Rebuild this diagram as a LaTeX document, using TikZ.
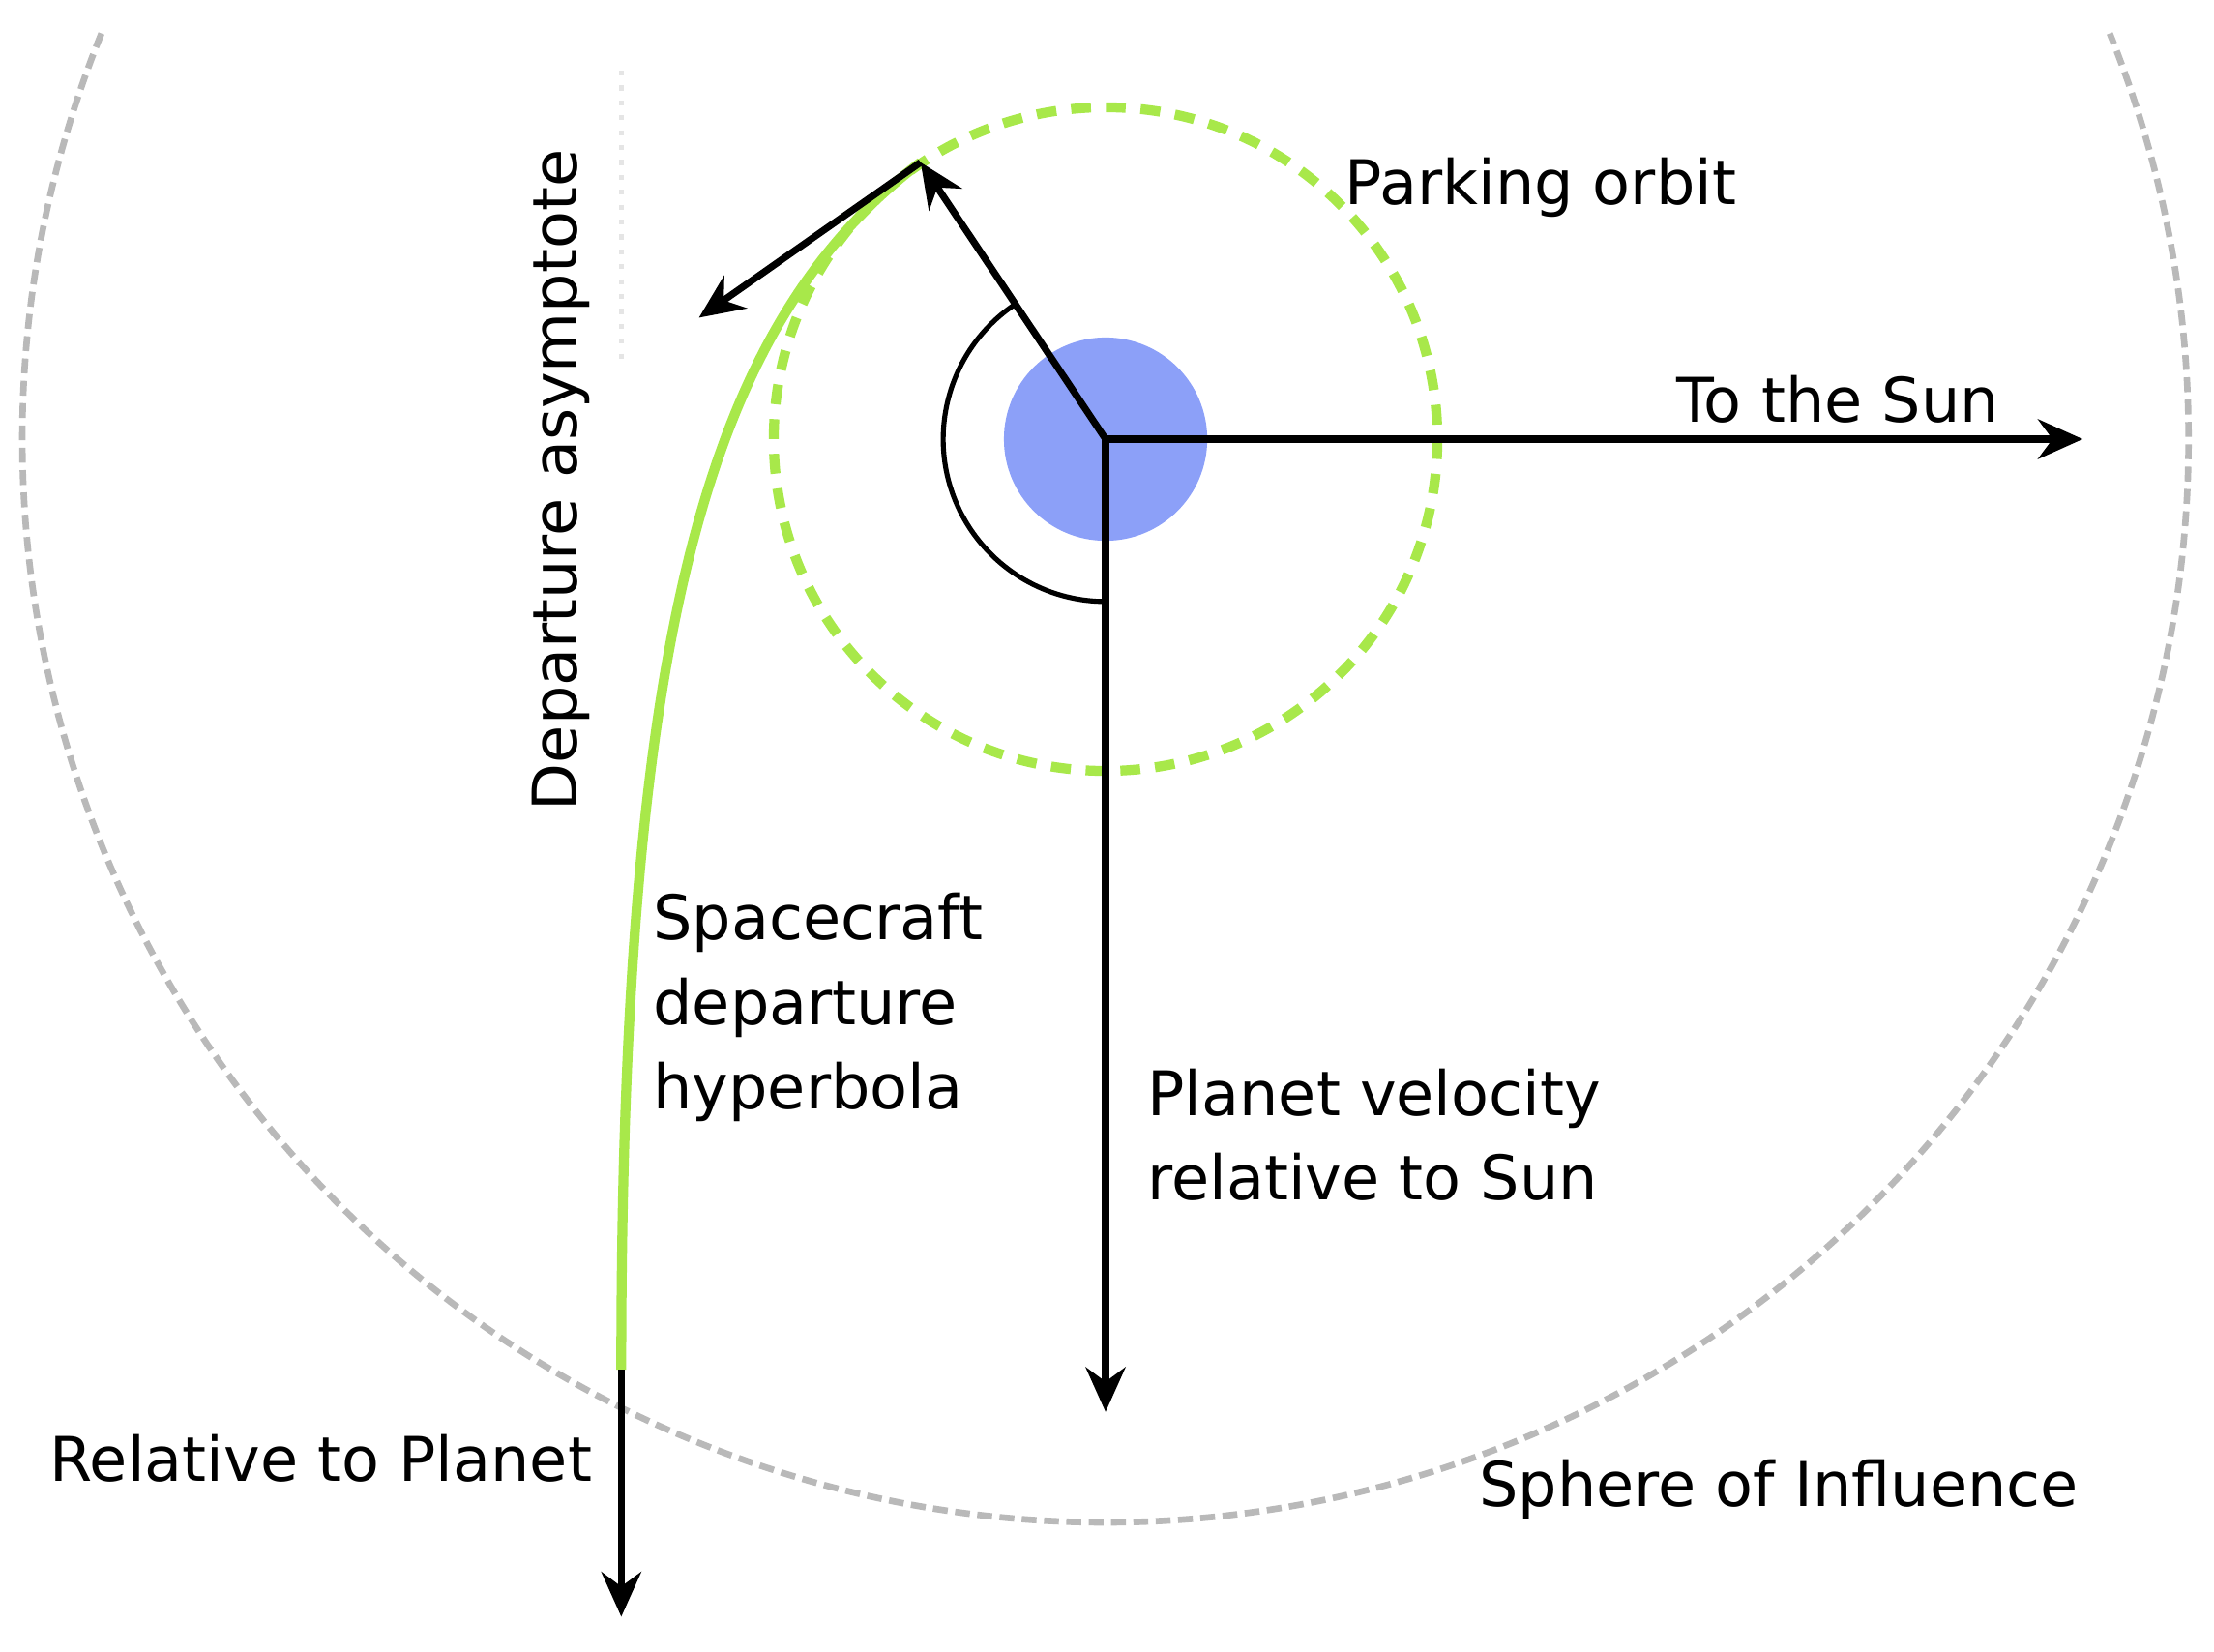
\documentclass[tikz,border=0pt]{standalone}
\usepackage{fontspec}
\setmainfont{DejaVu Sans}
\usetikzlibrary{arrows.meta}
\definecolor{pl}{HTML}{8CA0F8}
\definecolor{gr}{HTML}{A8E84A}
\tikzset{arr/.style={draw=black,line width=1.4pt,-{Stealth[length=9pt,width=8pt]}},
  lbl/.style={font=\fontsize{12.4}{17}\selectfont,inner sep=0pt,align=left}}
\begin{document}
\begin{tikzpicture}[x=0.01cm,y=-0.01cm]
\useasboundingbox (0,0) rectangle (1568,1170);
\coordinate (c) at (783,311);
\draw[gray!55,line width=1.3pt,dash pattern=on 3pt off 1.5pt] (c) ++(-158:767) arc[start angle=-158,end angle=-382,radius=767];
\draw[gr,line width=2pt,dash pattern=on 4pt off 3pt] (c) circle[radius=235];
\fill[pl] (c) circle[radius=72];
\draw[gray!20,line width=1pt,dotted] (440,50) -- (440,260);
\coordinate (p) at (652,115);
\coordinate (h) at (440,970);
\draw[gr,line width=2pt] (p) .. controls (500,230) and (440,450) .. (h);
\draw[line width=1pt] (c) ++(-123.7:115) arc[start angle=-123.7,end angle=-270,radius=115];
\draw[arr] (c) -- (1475,311) coordinate (sun);
\draw[arr] (c) -- (783,1000) coordinate (vel);
\draw[arr] (c) -- (p);
\draw[arr] (p) -- (495,225) coordinate (asy);
\draw[arr] (h) -- (440,1145) coordinate (rel);
\node[lbl,anchor=west] (po) at (952,133) {Parking orbit};
\node[lbl,anchor=west] (ts) at (1187,283) {To the Sun};
\node[lbl,rotate=90] (da) at (397,340) {Departure asymptote};
\node[lbl,anchor=north west] (sc) at (462,632) {Spacecraft\\departure\\hyperbola};
\node[lbl,anchor=north west] (pv) at (812,756) {Planet velocity\\relative to Sun};
\node[lbl,anchor=east] (rp) at (420,1033) {Relative to Planet};
\node[lbl,anchor=west] (si) at (1047,1055) {Sphere of Influence};
\end{tikzpicture}
\end{document}
